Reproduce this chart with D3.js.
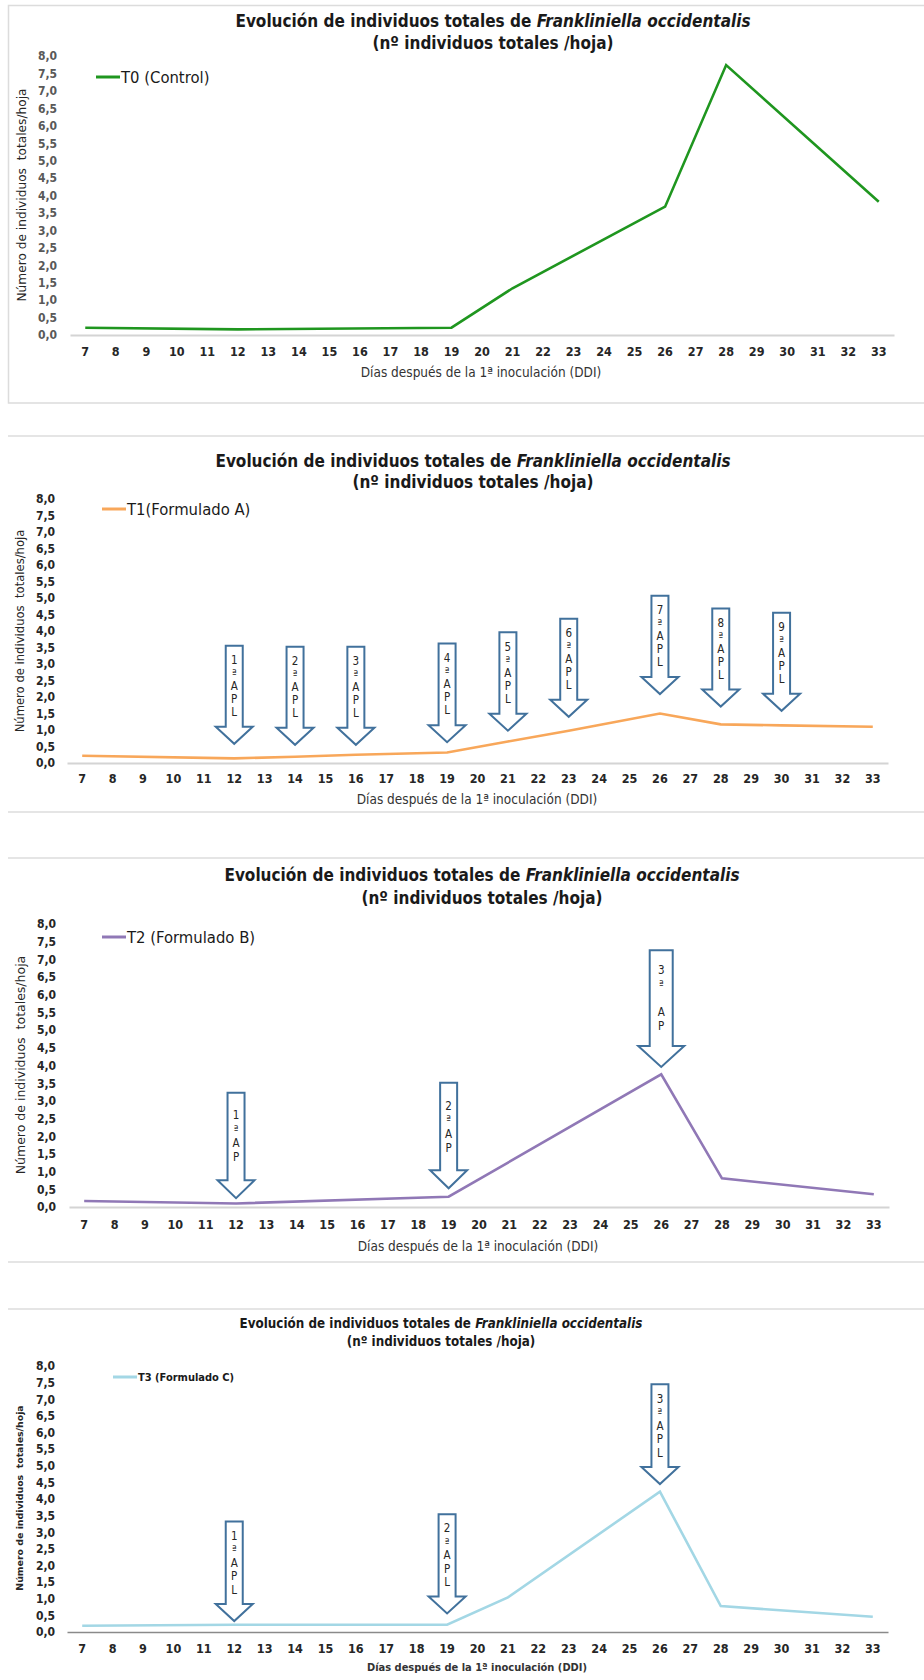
<!DOCTYPE html>
<html>
<head>
<meta charset="utf-8">
<script src="https://cdn.jsdelivr.net/npm/d3@7"></script>
<style>
  body { margin: 0; background: #fff; }
  svg { display: block; }
</style>
</head>
<body>
<svg id="chart" width="924" height="1680"></svg>
<script>
// categories on the x axis (days after 1st inoculation)
const days = ["7","8","9","10","11","12","13","14","15","16","17","18","19","20","21","22","23","24","25","26","27","28","29","30","31","32","33"];
const yTicks = [0,0.5,1,1.5,2,2.5,3,3.5,4,4.5,5,5.5,6,6.5,7,7.5,8];

// series
const t0Days = ["7","12","19","21","26","28","33"];
const t0Values = [0.21, 0.16, 0.21, 1.34, 3.68, 7.74, 3.82];

const t1Days = ["7","12","14","16","19","21","23","26","28","30","33"];
const t1Values = [0.22, 0.14, 0.19, 0.25, 0.32, 0.65, 0.98, 1.5, 1.17, 1.14, 1.1];

const t2Days = ["7","12","19","26","28","33"];
const t2Values = [0.17, 0.1, 0.29, 3.75, 0.81, 0.36];

const t3Days = ["7","12","19","21","26","28","33"];
const t3Values = [0.19, 0.22, 0.22, 1.04, 4.22, 0.78, 0.46];

// application arrows (top and tip expressed in y units)
const t1ArrowDays = ["12","14","16","19","21","23","26","28","30"];
const t1ArrowTop = [3.55, 3.52, 3.52, 3.62, 3.96, 4.37, 5.07, 4.68, 4.55];
const t1ArrowTip = [0.58, 0.55, 0.55, 0.63, 0.98, 1.40, 2.09, 1.71, 1.58];
const t1ArrowText = ["1ªAPL","2ªAPL","3ªAPL","4ªAPL","5ªAPL","6ªAPL","7ªAPL","8ªAPL","9ªAPL"];

const t2ArrowDays = ["12","19","26"];
const t2ArrowTop = [3.23, 3.51, 7.26];
const t2ArrowTip = [0.25, 0.53, 3.96];
const t2ArrowText = ["1ªAP","2ªAP","3ª AP"];

const t3ArrowDays = ["12","19","26"];
const t3ArrowTop = [3.32, 3.54, 7.45];
const t3ArrowTip = [0.33, 0.56, 4.45];
const t3ArrowText = ["1ªAPL","2ªAPL","3ªAPL"];

const titleMain = "Evolución de individuos totales de ";
const titleSpecies = "Frankliniella occidentalis";
const titleSub = "(nº individuos totales /hoja)";
const xTitle = "Días después de la 1ª inoculación (DDI)";
const yTitle = "Número de individuos  totales/hoja";

const narrow = "'Liberation Sans Narrow', 'Arial Narrow', 'DejaVu Sans Condensed', sans-serif";
const wide = "'DejaVu Sans', Verdana, sans-serif";
const arrowColor = "#41719c";

const svg = d3.select("#chart");
const fmt = d3.formatLocale({decimal: ",", thousands: ".", grouping: [3], currency: ["", ""]}).format(".1f");

// frames around the charts
const frame = svg.append("g").attr("fill", "none").attr("stroke", "#dcdcdc").attr("stroke-width", 1.5);
frame.append("path").attr("d", "M924,5.5 H8.5 V403 H924");
[436, 812, 858, 1262, 1309].forEach(y => {
  frame.append("line").attr("x1", 8).attr("x2", 924).attr("y1", y).attr("y2", y);
});

const charts = [
  { days: t0Days, values: t0Values, color: "#1f961f", legend: "T0 (Control)",
    y0: 335, y8: 56, xl: 70, xr: 894, pad: 13, yTickColor: "#595959",
    titleX: 493, titleY: [21, 43], titleSize: 17, xTickY: 352, xTitleX: 481, xTitleY: 372, xTitleSize: 13.5, xTitleBold: false,
    yTitleX: 22, yTitleY: 195, yTitleSize: 12.2, yTitleBold: false,
    legX: [96, 120], legY: 77, legSize: 16.5, legBold: false, axisColor: "#d4d4d4", axisW: 2 },
  { days: t1Days, values: t1Values, color: "#f8a75a", legend: "T1(Formulado A)",
    y0: 763, y8: 499, xl: 67, xr: 888, pad: 12, yTickColor: "#262626",
    titleX: 473, titleY: [461, 482], titleSize: 17, xTickY: 779, xTitleX: 477, xTitleY: 799, xTitleSize: 13.5, xTitleBold: false,
    yTitleX: 19.5, yTitleY: 631, yTitleSize: 11.6, yTitleBold: false,
    legX: [102, 126], legY: 509, legSize: 16.5, legBold: false, axisColor: "#d4d4d4", axisW: 2,
    arrows: { days: t1ArrowDays, top: t1ArrowTop, tip: t1ArrowTip, text: t1ArrowText, sw: 17, hw: 37, hh: 17, step: 13 } },
  { days: t2Days, values: t2Values, color: "#9078b6", legend: "T2 (Formulado B)",
    y0: 1207, y8: 924, xl: 69, xr: 889, pad: 13, yTickColor: "#262626",
    titleX: 482, titleY: [875, 898], titleSize: 17, xTickY: 1225, xTitleX: 478, xTitleY: 1246, xTitleSize: 13.5, xTitleBold: false,
    yTitleX: 20.5, yTitleY: 1065, yTitleSize: 12.5, yTitleBold: false,
    legX: [102, 126], legY: 937, legSize: 16.5, legBold: false, axisColor: "#d4d4d4", axisW: 2,
    arrows: { days: t2ArrowDays, top: t2ArrowTop, tip: t2ArrowTip, text: t2ArrowText, sw: 17, hw: 37, hh: 18, step: 14,
              big: { sw: 23, hw: 46, hh: 21 } } },
  { days: t3Days, values: t3Values, color: "#a3d7e5", legend: "T3 (Formulado C)",
    y0: 1632, y8: 1366, xl: 67, xr: 888, pad: 12, yTickColor: "#262626",
    titleX: 441, titleY: [1323, 1341], titleSize: 13.3, xTickY: 1649, xTitleX: 477, xTitleY: 1667, xTitleSize: 11, xTitleBold: true,
    yTitleX: 19.5, yTitleY: 1498, yTitleSize: 9.4, yTitleBold: true,
    legX: [113, 137], legY: 1377, legSize: 11, legBold: true, axisColor: "#8a8a8a", axisW: 1.3,
    arrows: { days: t3ArrowDays, top: t3ArrowTop, tip: t3ArrowTip, text: t3ArrowText, sw: 17, hw: 37, hh: 17, step: 13.5 } }
];

charts.forEach(c => {
  const g = svg.append("g");
  const x = d3.scaleBand().domain(days).range([c.xl, c.xr]);
  const y = d3.scaleLinear().domain([0, 8]).range([c.y0, c.y8]);
  const cx = d => x(d) + x.bandwidth() / 2;

  // title
  const t = g.append("text")
    .attr("x", c.titleX).attr("y", c.titleY[0]).attr("dy", "0.35em")
    .attr("text-anchor", "middle")
    .style("font-family", narrow).style("font-weight", "bold").style("font-size", c.titleSize + "px")
    .attr("fill", "#1a1a1a");
  t.append("tspan").text(titleMain);
  t.append("tspan").style("font-style", "italic").text(titleSpecies);
  g.append("text")
    .attr("x", c.titleX).attr("y", c.titleY[1]).attr("dy", "0.35em")
    .attr("text-anchor", "middle")
    .style("font-family", narrow).style("font-weight", "bold").style("font-size", c.titleSize + "px")
    .attr("fill", "#1a1a1a")
    .text(titleSub);

  // y axis
  const ya = g.append("g").attr("transform", `translate(${c.xl},0)`)
    .call(d3.axisLeft(y).tickValues(yTicks).tickFormat(fmt).tickSize(0).tickPadding(c.pad));
  ya.select(".domain").remove();
  ya.selectAll("text")
    .style("font-family", narrow).style("font-size", "12px").style("font-weight", "bold")
    .attr("fill", c.yTickColor);

  // x axis
  const xa = g.append("g").attr("transform", `translate(0,${c.y0})`)
    .call(d3.axisBottom(x).tickSize(0));
  xa.select(".domain").attr("stroke", c.axisColor).attr("stroke-width", c.axisW);
  xa.selectAll("text")
    .attr("y", c.xTickY - c.y0).attr("dy", "0.35em")
    .style("font-family", narrow).style("font-size", "12.5px").style("font-weight", "bold")
    .attr("fill", "#262626");

  // axis titles
  g.append("text")
    .attr("x", c.xTitleX).attr("y", c.xTitleY).attr("dy", "0.35em")
    .attr("text-anchor", "middle")
    .style("font-family", narrow).style("font-size", c.xTitleSize + "px")
    .style("font-weight", c.xTitleBold ? "bold" : "normal")
    .attr("fill", "#333")
    .text(xTitle);
  g.append("text")
    .attr("transform", `translate(${c.yTitleX},${c.yTitleY}) rotate(-90)`)
    .attr("dy", "0.35em")
    .attr("text-anchor", "middle")
    .style("font-family", wide).style("font-size", c.yTitleSize + "px")
    .style("font-weight", c.yTitleBold ? "bold" : "normal")
    .attr("fill", "#262626")
    .style("white-space", "pre")
    .text(yTitle);

  // legend
  g.append("line")
    .attr("x1", c.legX[0]).attr("x2", c.legX[1]).attr("y1", c.legY).attr("y2", c.legY)
    .attr("stroke", c.color).attr("stroke-width", 3);
  g.append("text")
    .attr("x", c.legX[1] + 1).attr("y", c.legY).attr("dy", "0.35em")
    .style("font-family", narrow).style("font-size", c.legSize + "px")
    .style("font-weight", c.legBold ? "bold" : "normal")
    .attr("fill", "#1a1a1a")
    .text(c.legend);

  // series line
  const pts = c.days.map((d, i) => ({ day: d, v: c.values[i] }));
  g.append("path")
    .datum(pts)
    .attr("fill", "none").attr("stroke", c.color).attr("stroke-width", 2.6)
    .attr("stroke-linejoin", "miter")
    .attr("d", d3.line().x(d => cx(d.day)).y(d => y(d.v)));

  // application arrows
  if (c.arrows) {
    const a = c.arrows;
    a.days.forEach((d, i) => {
      const size = (a.big && i === a.days.length - 1) ? a.big : a;
      const xc = cx(d), yt = y(a.top[i]), yp = y(a.tip[i]);
      const yh = yp - size.hh;
      const sw = size.sw / 2, hw = size.hw / 2;
      g.append("path")
        .attr("d", `M${xc - sw},${yt} H${xc + sw} V${yh} H${xc + hw} L${xc},${yp} L${xc - hw},${yh} H${xc - sw} Z`)
        .attr("fill", "#fff").attr("stroke", arrowColor).attr("stroke-width", 2)
        .attr("stroke-linejoin", "miter");
      const letters = Array.from(a.text[i]);
      const mid = (yt + yh) / 2;
      const start = mid - (letters.length - 1) * a.step / 2;
      letters.forEach((ch, j) => {
        g.append("text")
          .attr("x", xc).attr("y", start + j * a.step).attr("dy", "0.35em")
          .attr("text-anchor", "middle")
          .style("font-family", narrow).style("font-size", ch === "ª" ? "11px" : "11.5px")
          .attr("fill", "#262626")
          .text(ch);
      });
    });
  }
});
</script>
</body>
</html>
